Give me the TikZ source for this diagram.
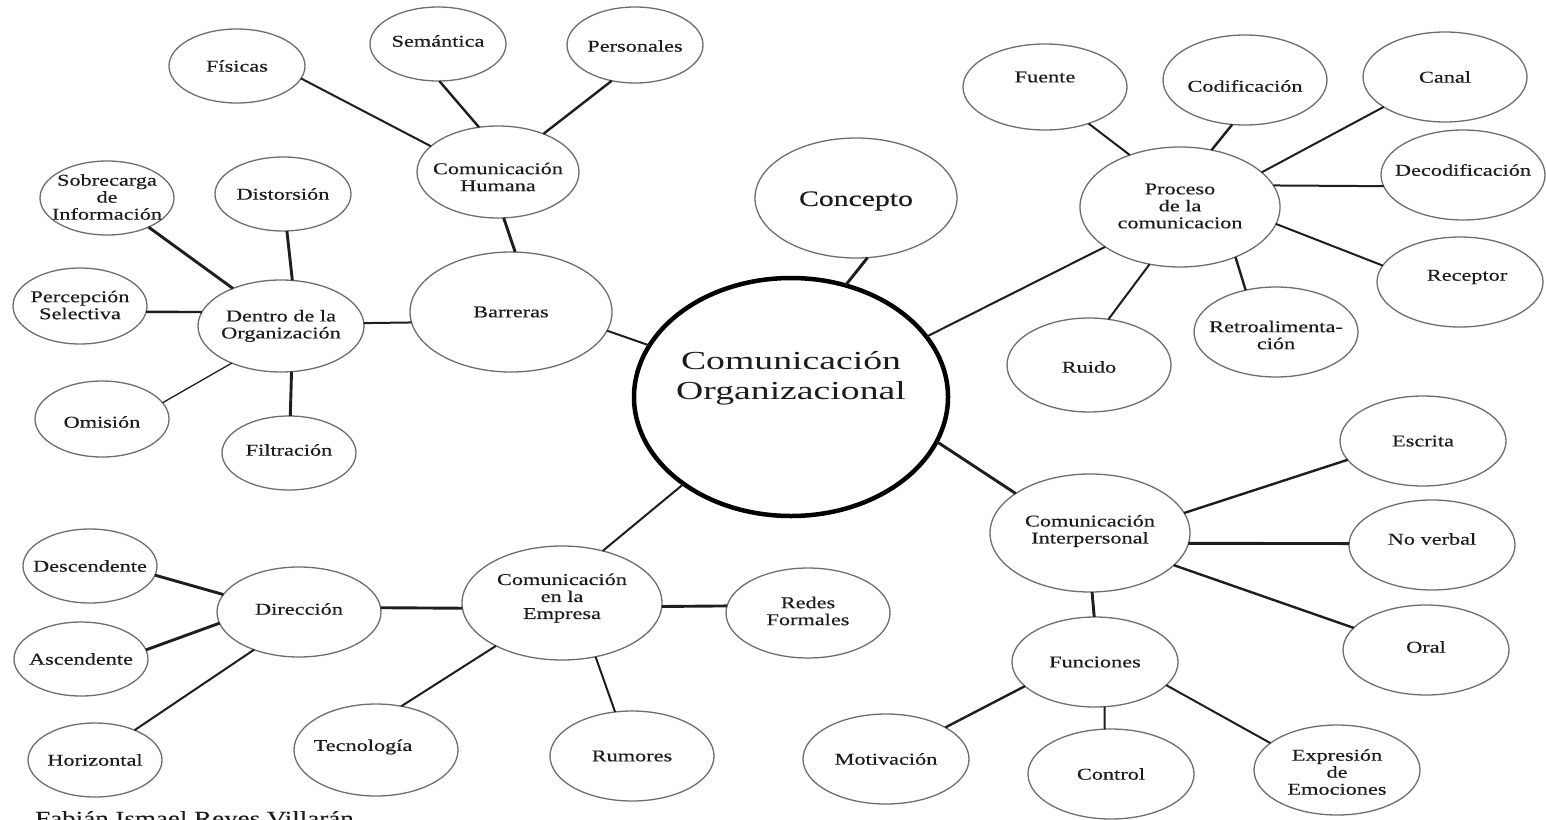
\documentclass[tikz,border=0pt]{standalone}
\usepackage{fontspec}
\setmainfont{Liberation Serif}[FakeStretch=1.35, FakeBold=0.35]
\newfontfamily\bigserif{Liberation Serif}[FakeStretch=1.45]
\usetikzlibrary{shapes.geometric}
\definecolor{rim}{HTML}{6E6E6E}
\definecolor{ink}{HTML}{1C1C1C}
\definecolor{wire}{HTML}{1E1E1E}

\begin{document}
\begin{tikzpicture}[x=1pt,y=-1pt,
  bub/.style 2 args={ellipse, draw=rim, line width=1.3pt, fill=white,
    minimum width=#1pt, minimum height=#2pt, inner sep=0pt, outer sep=0pt},
  every label/.style={align=center, text=ink, inner sep=0pt,
    font=\fontsize{16.5}{17}\selectfont},
  wthin/.style={draw=wire, line width=1.3pt},
  wnorm/.style={draw=wire, line width=2pt},
  wmid/.style={draw=wire, line width=2.4pt},
  wbold/.style={draw=wire, line width=2.9pt},
]
\useasboundingbox (0,0) rectangle (1546,819);
\fill[white] (0,0) rectangle (1546,819);

% central topic
\node[ellipse, draw=black, line width=4.5pt, fill=white, minimum width=314pt,
  minimum height=238pt, inner sep=0pt, outer sep=0pt,
  label={[yshift=19pt, font=\bigserif\fontsize{26}{30}\selectfont]center:{Comunicación\\Organizacional}}]
  (main) at (791,397) {};
\node[bub={202}{120}, label={[yshift=-3pt, font=\fontsize{22}{24}\selectfont]center:Concepto}] (con) at (856,198) {};

% barriers
\node[bub={136}{74}, label={center:Físicas}] (fis) at (237,66) {};
\node[bub={136}{74}, label={[yshift=3pt]center:Semántica}] (sem) at (438,44) {};
\node[bub={136}{76}, label={[yshift=-1pt]center:Personales}] (per) at (635,45) {};
\node[bub={162}{92}, label={[yshift=-5pt]center:{Comunicación\\Humana}}] (hum) at (498,172) {};
\node[bub={202}{120}, label={center:Barreras}] (bar) at (511,312) {};
\node[bub={136}{74}, label={center:Distorsión}] (dis) at (283,194) {};
\node[bub={134}{74}, label={[yshift=1pt]center:{Sobrecarga\\de\\Información}}] (sob) at (107,198) {};
\node[bub={134}{76}, label={[yshift=1pt]center:{Percepción\\Selectiva}}] (pse) at (80,306) {};
\node[bub={166}{92}, label={center:{Dentro de la\\Organización}}] (den) at (281,326) {};
\node[bub={134}{76}, label={[yshift=-3pt]center:Omisión}] (omi) at (102,419) {};
\node[bub={134}{74}, label={[yshift=3pt]center:Filtración}] (fil) at (289,453) {};

% communication process
\node[bub={164}{86}, label={[yshift=10pt]center:Fuente}] (fue) at (1045,87) {};
\node[bub={164}{90}, label={[yshift=-6pt]center:Codificación}] (cod) at (1245,80) {};
\node[bub={164}{90}, label={center:Canal}] (can) at (1445,77) {};
\node[bub={164}{90}, label={[yshift=5pt]center:Decodificación}] (dec) at (1463,175) {};
\node[bub={200}{120}, label={[yshift=1pt]center:{Proceso\\de la\\comunicacion}}] (pro) at (1180,207) {};
\node[bub={166}{90}, label={[yshift=5pt, xshift=7pt]center:Receptor}] (rec) at (1460,282) {};
\node[bub={164}{90}, label={[yshift=-3pt]center:{Retroalimenta-\\ción}}] (ret) at (1276,332) {};
\node[bub={164}{94}, label={[yshift=-2pt]center:Ruido}] (rui) at (1089,365) {};

% interpersonal communication
\node[bub={200}{118}, label={[yshift=2pt]center:{Comunicación\\Interpersonal}}] (int) at (1090,533) {};
\node[bub={166}{90}, label={center:Escrita}] (esc) at (1423,441) {};
\node[bub={166}{90}, label={[yshift=6pt]center:No verbal}] (nov) at (1432,545) {};
\node[bub={166}{90}, label={[yshift=3pt]center:Oral}] (ora) at (1426,650) {};
\node[bub={166}{90}, label={center:Funciones}] (fun) at (1095,662) {};
\node[bub={166}{90}, label={center:Motivación}] (mot) at (886,759) {};
\node[bub={166}{90}, label={center:Control}] (ctl) at (1111,774) {};
\node[bub={166}{90}, label={[yshift=-2pt]center:{Expresión\\de\\Emociones}}] (exp) at (1337,770) {};

% communication in the company
\node[bub={134}{74}, label={center:Descendente}] (des) at (90,566) {};
\node[bub={134}{74}, label={center:Ascendente}] (asc) at (81,659) {};
\node[bub={134}{74}, label={center:Horizontal}] (hor) at (95,760) {};
\node[bub={164}{90}, label={[yshift=3pt]center:Dirección}] (dir) at (299,612) {};
\node[bub={200}{114}, label={[yshift=5pt]center:{Comunicación\\en la\\Empresa}}] (emp) at (562,603) {};
\node[bub={164}{90}, label={[yshift=2pt]center:{Redes\\Formales}}] (red) at (808,613) {};
\node[bub={164}{92}, label={[yshift=3pt, xshift=-13pt]center:Tecnología}] (tec) at (376,750) {};
\node[bub={164}{90}, label={center:Rumores}] (rum) at (632,756) {};

% connectors
\draw[wnorm] (fis.-11) -- (hum.159);
\draw[wmid] (sem.-88) -- (hum.113);
\draw[wmid] (per.-123) -- (hum.40);
\draw[wbold] (hum.-83) -- (bar.86);
\draw[wbold] (sob.-35) -- (den.142);
\draw[wbold] (dis.-84) -- (den.76);
\draw[wmid] (pse.-5) -- (den.170);
\draw[wnorm] (den.2) -- (bar.186);
\draw[wthin] (omi.15) -- (den.217);
\draw[wbold] (fil.88) -- (den.-77);
\draw[wnorm] (bar.-11) -- (main.160);
\draw[wbold] (con.-79) -- (main.64);
\draw[wnorm] (main.24) -- (pro.208);
\draw[wnorm] (fue.-40) -- (pro.134);
\draw[wmid] (cod.-106) -- (pro.61);
\draw[wnorm] (can.-154) -- (pro.23);
\draw[wnorm] (dec.188) -- (pro.13);
\draw[wnorm] (rec.168) -- (pro.-10);
\draw[wmid] (ret.126) -- (pro.-42);
\draw[wnorm] (rui.67) -- (pro.-118);
\draw[wbold] (main.-17) -- (int.152);
\draw[wmid] (int.12) -- (esc.-166);
\draw[wbold] (int.-6) -- (nov.179);
\draw[wmid] (int.-21) -- (ora.163);
\draw[wbold] (int.-88) -- (fun.91);
\draw[wmid] (fun.-161) -- (mot.28);
\draw[wnorm] (fun.-78) -- (ctl.98);
\draw[wnorm] (fun.-18) -- (exp.158);
\draw[wbold] (des.-8) -- (dir.167);
\draw[wbold] (asc.8) -- (dir.188);
\draw[wnorm] (hor.37) -- (dir.-140);
\draw[wbold] (dir.3) -- (emp.183);
\draw[wbold] (emp.-2) -- (red.175);
\draw[wnorm] (emp.-147) -- (tec.60);
\draw[wnorm] (emp.-58) -- (rum.111);
\draw[wnorm] (emp.52) -- (main.-141);

% author line along the lower edge
\node[anchor=base west, inner sep=0pt, text=ink, font=\fontsize{20}{22}\selectfont]
  (author) at (35,825) {Fabián Ismael Reyes Villarán};
\end{tikzpicture}
\end{document}
